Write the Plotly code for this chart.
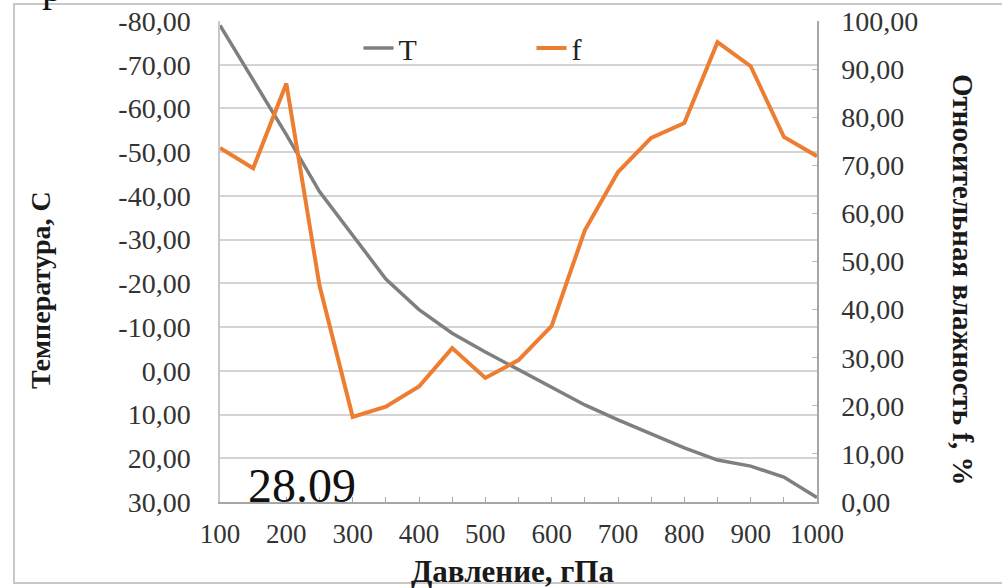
import plotly.graph_objects as go

pressure = [100, 150, 200, 250, 300, 350, 400, 450, 500, 550, 600, 650, 700, 750, 800, 850, 900, 950, 1000]
temperature = [-79, -66.5, -54, -41, -31, -21, -14, -8.6, -4.3, -0.2, 3.7, 7.8, 11.2, 14.4, 17.6, 20.4, 21.8, 24.3, 29]
humidity = [73.6, 69.4, 87, 45, 17.7, 19.8, 24, 32, 25.8, 29.5, 36.6, 56.5, 68.6, 75.7, 78.8, 95.6, 90.6, 75.9, 71.9]

t_ticks = [-80, -70, -60, -50, -40, -30, -20, -10, 0, 10, 20, 30]
t_ticktext = ["-80,00", "-70,00", "-60,00", "-50,00", "-40,00", "-30,00", "-20,00", "-10,00", "0,00", "10,00", "20,00", "30,00"]
f_ticks = [0, 10, 20, 30, 40, 50, 60, 70, 80, 90, 100]
f_ticktext = ["0,00", "10,00", "20,00", "30,00", "40,00", "50,00", "60,00", "70,00", "80,00", "90,00", "100,00"]
x_ticks = [100, 200, 300, 400, 500, 600, 700, 800, 900, 1000]

SERIF = "Liberation Serif"

fig = go.Figure()
fig.add_trace(go.Scatter(x=pressure, y=temperature, name="T", mode="lines",
                         line=dict(color="#7f7f7f", width=3.5), yaxis="y"))
fig.add_trace(go.Scatter(x=pressure, y=humidity, name="f", mode="lines",
                         line=dict(color="#ed7d31", width=4), yaxis="y2"))

fig.update_layout(
    width=1002, height=588,
    margin=dict(l=220, r=185, t=21, b=86),
    paper_bgcolor="white", plot_bgcolor="white",
    font=dict(family=SERIF, size=27, color="#333333"),
    showlegend=True,
    legend=dict(orientation="h", x=0.232, y=0.998, xanchor="left", yanchor="top",
                entrywidth=128, bgcolor="rgba(0,0,0,0)",
                font=dict(family=SERIF, size=30, color="#222222")),
    xaxis=dict(range=[100, 1000], tickvals=x_ticks, ticktext=[str(v) for v in x_ticks],
               showgrid=False, showline=True, linecolor="#a6a6a6", linewidth=1.5,
               ticks="inside", tickcolor="#a6a6a6", ticklen=5, ticklabelstandoff=7,
               tickfont=dict(family=SERIF, size=27, color="#333333"),
               minor=dict(ticks="inside", tickvals=pressure, ticklen=5, tickcolor="#a6a6a6"),
               zeroline=False, mirror=False, automargin=False),
    yaxis=dict(range=[30, -80], tickvals=t_ticks, ticktext=t_ticktext,
               showgrid=True, gridcolor="#d4d4d4", gridwidth=1.5,
               showline=True, linecolor="#c8c8c8", linewidth=1.5,
               ticks="", zeroline=False, automargin=False, ticklabelstandoff=22,
               tickfont=dict(family=SERIF, size=28, color="#333333")),
    yaxis2=dict(range=[0, 100], tickvals=f_ticks, ticktext=f_ticktext,
                overlaying="y", side="right", showgrid=False,
                showline=True, linecolor="#a6a6a6", linewidth=1.5,
                ticks="inside", tickcolor="#bdbdbd", ticklen=5, zeroline=False,
                automargin=False, ticklabelstandoff=17,
                tickfont=dict(family=SERIF, size=28, color="#333333")),
)

fig.add_annotation(text="<b>Температура, С</b>", xref="paper", yref="paper",
                   x=(40 - 220) / 597, y=(502 - 290) / 481, xanchor="center", yanchor="middle",
                   textangle=-90, showarrow=False,
                   font=dict(family=SERIF, size=28, color="#1a1a1a"))
fig.add_annotation(text="<b>Относительная влажность f, %</b>", xref="paper", yref="paper",
                   x=(963 - 220) / 597, y=(502 - 280) / 481, xanchor="center", yanchor="middle",
                   textangle=90, showarrow=False,
                   font=dict(family=SERIF, size=29, color="#1a1a1a"))
fig.add_annotation(text="<b>Давление, гПа</b>", xref="paper", yref="paper",
                   x=(512 - 220) / 597, y=(502 - 571) / 481, xanchor="center", yanchor="middle",
                   showarrow=False,
                   font=dict(family=SERIF, size=31, color="#1a1a1a"))
fig.add_annotation(text="28.09", xref="paper", yref="paper",
                   x=(302 - 220) / 597, y=(502 - 485) / 481, xanchor="center", yanchor="middle",
                   showarrow=False,
                   font=dict(family=SERIF, size=48, color="#111111"))
fig.add_annotation(text="р", xref="paper", yref="paper",
                   x=(52 - 220) / 597, y=(502 - 12) / 481, xanchor="center", yanchor="bottom",
                   showarrow=False,
                   font=dict(family=SERIF, size=40, color="#111111"))

# outer frame
fig.add_shape(type="rect", xref="paper", yref="paper",
              x0=(14 - 220) / 597, x1=(1010 - 220) / 597,
              y0=(502 - 583) / 481, y1=(502 - 4) / 481,
              line=dict(color="#c8c8c8", width=2), layer="below")

fig.write_html("out.html", config={"displayModeBar": False},
               post_script="document.body.style.margin='0';document.body.style.padding='0';")
